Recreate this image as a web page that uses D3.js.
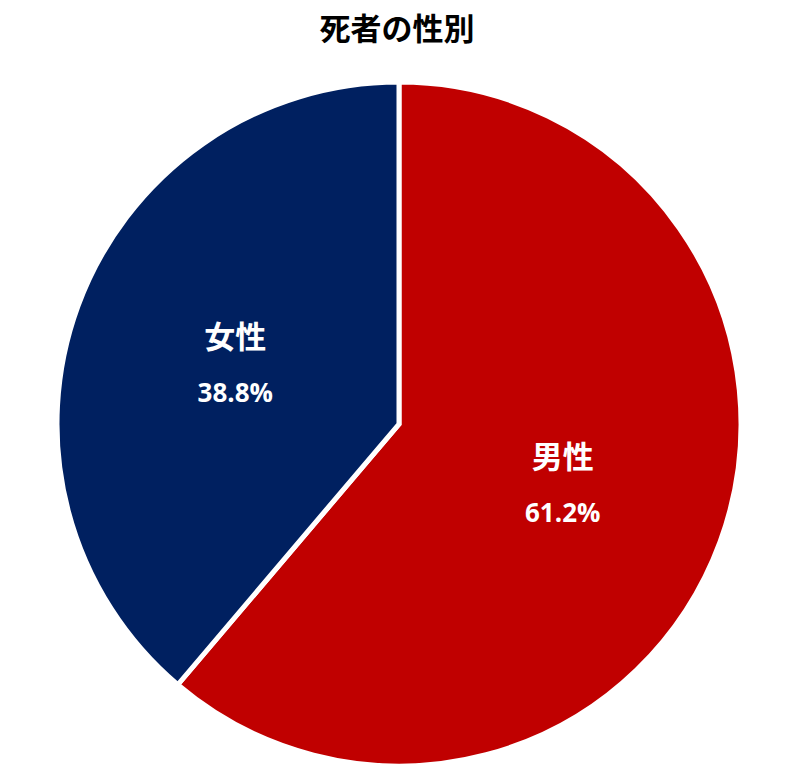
<!DOCTYPE html>
<html><head><meta charset="utf-8">
<script src="https://cdn.jsdelivr.net/npm/d3@7"></script>
<style>body{margin:0;background:#fff;} svg{display:block;}</style>
</head><body>
<script>
const title = "死者の性別";
const categories = ["男性", "女性"];
const values = [61.2, 38.8];
const valueLabels = ["61.2%", "38.8%"];
const colors = ["#C00000", "#002060"];

const W = 800, H = 782;
const cx = 399, cy = 424, R = 342;
const svg = d3.select("body").append("svg").attr("width", W).attr("height", H);

svg.append("text").attr("x", cx - 2).attr("y", 40).attr("text-anchor", "middle")
  .attr("font-family", "'Noto Sans CJK JP', sans-serif").attr("font-weight", "bold")
  .attr("font-size", 31).attr("fill", "#000").text(title);

const data = categories.map((c, i) => ({c, v: values[i], l: valueLabels[i], col: colors[i]}));
const pie = d3.pie().value(d => d.v).sort(null);
const arc = d3.arc().innerRadius(0).outerRadius(R);
const labelArc = d3.arc().innerRadius(R * 0.51).outerRadius(R * 0.51);
const g = svg.append("g").attr("transform", `translate(${cx},${cy})`);
const arcs = pie(data);
g.selectAll("path").data(arcs).join("path").attr("d", arc)
  .attr("fill", d => d.data.col).attr("stroke", "#fff").attr("stroke-width", 5).attr("stroke-linejoin", "miter");

arcs.forEach(a => {
  const [x, y] = labelArc.centroid(a);
  g.append("text").attr("x", x).attr("y", y - 16).attr("text-anchor", "middle")
    .attr("font-family", "'Noto Sans CJK JP', sans-serif").attr("font-weight", "bold")
    .attr("font-size", 31).attr("fill", "#fff").text(a.data.c);
  g.append("text").attr("x", x).attr("y", y + 38).attr("text-anchor", "middle")
    .attr("font-family", "'Open Sans', sans-serif").attr("font-weight", "bold")
    .attr("font-size", 26).attr("fill", "#fff").text(a.data.l);
});
</script>
</body></html>
